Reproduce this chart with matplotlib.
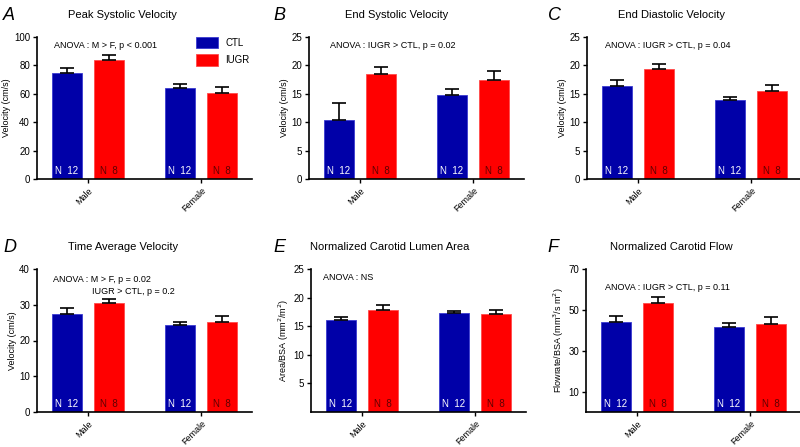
import numpy as np
import matplotlib.pyplot as plt

plt.rcParams['font.family'] = ['Liberation Sans', 'DejaVu Sans']

groups = ['Male', 'Female']
n_ctl = [12, 12]
n_iugr = [8, 8]

# mean / upper error, per panel (CTL then IUGR)
peak_ctl = [74.6, 64.0]
peak_ctl_err = [3.5, 2.6]
peak_iugr = [84.0, 60.5]
peak_iugr_err = [3.1, 4.2]

endsys_ctl = [10.4, 14.8]
endsys_ctl_err = [2.9, 1.0]
endsys_iugr = [18.4, 17.5]
endsys_iugr_err = [1.3, 1.6]

enddia_ctl = [16.3, 13.9]
enddia_ctl_err = [1.2, 0.6]
enddia_iugr = [19.4, 15.5]
enddia_iugr_err = [0.8, 1.1]

tav_ctl = [27.3, 24.3]
tav_ctl_err = [1.7, 1.0]
tav_iugr = [30.4, 25.3]
tav_iugr_err = [1.2, 1.5]

area_ctl = [16.1, 17.3]
area_ctl_err = [0.5, 0.3]
area_iugr = [17.9, 17.1]
area_iugr_err = [0.8, 0.8]

flow_ctl = [44.1, 41.8]
flow_ctl_err = [2.9, 1.8]
flow_iugr = [53.6, 42.9]
flow_iugr_err = [2.8, 3.6]

panels = [
    ('A', 'Peak Systolic Velocity', 'Velocity (cm/s)', peak_ctl, peak_ctl_err, peak_iugr, peak_iugr_err,
     (0, 100), [0, 20, 40, 60, 80, 100], ['ANOVA : M > F, p < 0.001']),
    ('B', 'End Systolic Velocity', 'Velocity (cm/s)', endsys_ctl, endsys_ctl_err, endsys_iugr, endsys_iugr_err,
     (0, 25), [0, 5, 10, 15, 20, 25], ['ANOVA : IUGR > CTL, p = 0.02']),
    ('C', 'End Diastolic Velocity', 'Velocity (cm/s)', enddia_ctl, enddia_ctl_err, enddia_iugr, enddia_iugr_err,
     (0, 25), [0, 5, 10, 15, 20, 25], ['ANOVA : IUGR > CTL, p = 0.04']),
    ('D', 'Time Average Velocity', 'Velocity (cm/s)', tav_ctl, tav_ctl_err, tav_iugr, tav_iugr_err,
     (0, 40), [0, 10, 20, 30, 40], ['ANOVA : M > F, p = 0.02', 'IUGR > CTL, p = 0.2']),
    ('E', 'Normalized Carotid Lumen Area', 'Area/BSA (mm$^2$/m$^2$)', area_ctl, area_ctl_err, area_iugr, area_iugr_err,
     (0, 25), [5, 10, 15, 20, 25], ['ANOVA : NS']),
    ('F', 'Normalized Carotid Flow', 'Flowrate/BSA (mm$^3$/s m$^2$)', flow_ctl, flow_ctl_err, flow_iugr, flow_iugr_err,
     (0, 70), [10, 30, 50, 70], ['ANOVA : IUGR > CTL, p = 0.11']),
]

blue = '#0000a8'
red = '#ff0000'
W, H = 800, 447
fig = plt.figure(figsize=(8, 4.47), dpi=100)

# axes boxes in pixels: left, top, bottom
boxes = [(37, 37, 179), (309, 37, 179), (587, 37, 179),
         (37, 269, 412), (311, 269, 412), (586, 269, 412)]
# anova text positions in pixels (x, y)
txt_pos = [(54, 45), (330, 45), (605, 45), (53, 279), (323, 278), (605, 288)]
title_x = [122, 397, 672, 123, 390, 671]
letter_x = [3, 273, 548, 3, 273, 547]
axw = 215

x = np.arange(len(groups))
bw = 0.265
off = 0.188

for i, (letter, title, ylabel, c, ce, g, ge, ylim, yticks, notes) in enumerate(panels):
    left, top, bot = boxes[i]
    ax = fig.add_axes([left / W, 1 - bot / H, axw / W, (bot - top) / H])
    ax.bar(x - off, c, bw, color=blue, edgecolor='#3a3ad0', linewidth=0.6,
           yerr=[np.zeros(2), ce], error_kw=dict(ecolor='black', elinewidth=1.2, capsize=5, capthick=1.2),
           label='CTL', zorder=2)
    ax.bar(x + off, g, bw, color=red, edgecolor='#ff4a4a', linewidth=0.6,
           yerr=[np.zeros(2), ge], error_kw=dict(ecolor='black', elinewidth=1.2, capsize=5, capthick=1.2),
           label='IUGR', zorder=2)
    ax.set_xlim(-0.45, 1.45)
    ax.set_ylim(*ylim)
    ax.set_yticks(yticks)
    ax.tick_params(axis='y', labelsize=7, length=3, width=1, pad=2)
    ax.set_xticks(x)
    ax.set_xticklabels(groups, rotation=45, ha='right', rotation_mode='anchor', fontsize=6.5)
    ax.tick_params(axis='x', length=3, width=1, pad=2)
    ax.spines['top'].set_visible(False)
    ax.spines['right'].set_visible(False)
    ax.spines['left'].set_linewidth(1.2)
    ax.spines['bottom'].set_linewidth(1.2)
    ax.set_ylabel(ylabel, fontsize=6.5, labelpad=2)
    nb = ylim[0] + (ylim[1] - ylim[0]) * 0.055
    for j in range(len(groups)):
        ax.text(x[j] - off, nb, 'N  %d' % n_ctl[j], color='white', fontsize=7, ha='center', va='center')
        ax.text(x[j] + off, nb, 'N  %d' % n_iugr[j], color='#600000', fontsize=7, ha='center', va='center')
    tx, ty = txt_pos[i]
    fig.text(tx / W, 1 - ty / H, notes[0], fontsize=6.5, va='center')
    if len(notes) > 1:
        fig.text(92 / W, 1 - 292 / H, notes[1], fontsize=6.5, va='center')
    fig.text(letter_x[i] / W, 1 - (top - 22) / H, letter, fontsize=13, style='italic', va='center')
    fig.text(title_x[i] / W, 1 - (top - 22) / H, title, fontsize=8, ha='center', va='center')
    if letter == 'A':
        ax.legend(loc='upper right', bbox_to_anchor=(1.03, 1.06), frameon=False, fontsize=7,
                  handlelength=2.2, handleheight=1.4, labelspacing=0.6)

fig.savefig('out.png', dpi=100)
